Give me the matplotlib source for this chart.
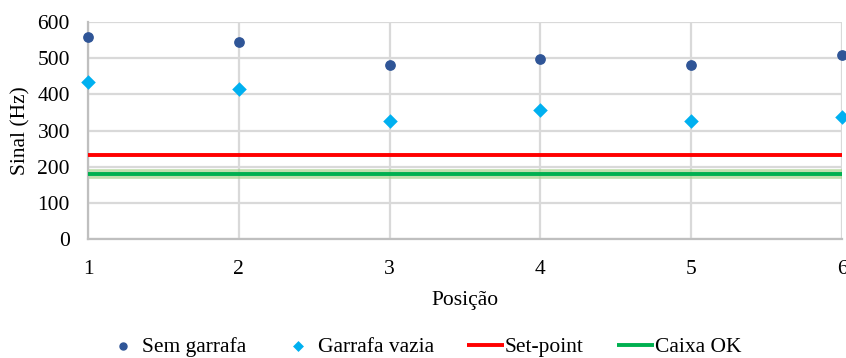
import matplotlib
matplotlib.use("Agg")
import matplotlib.pyplot as plt

positions = [1, 2, 3, 4, 5, 6]
sem_garrafa = [558, 545, 481, 498, 481, 509]
garrafa_vazia = [434, 415, 326, 357, 326, 337]
set_point = [232] * 6
caixa_ok = [180] * 6
y_ticks = [0, 100, 200, 300, 400, 500, 600]

plt.rcParams['font.family'] = ['Liberation Serif', 'DejaVu Serif']
plt.rcParams['font.size'] = 15.5

fig = plt.figure(figsize=(8.46, 3.58), dpi=100)
ax = fig.add_axes([88 / 846, 1 - 239 / 358, (842 - 88) / 846, (239 - 22) / 358])

ax.set_xlim(1, 6)
ax.set_ylim(0, 600)
ax.set_yticks(y_ticks)
ax.set_xticks(positions)

ax.grid(True, color='#d9d9d9', linewidth=1.6, zorder=0)
ax.set_axisbelow(True)
for side in ['top', 'right']:
    ax.spines[side].set_visible(False)
for side in ['left', 'bottom']:
    ax.spines[side].set_color('#bfbfbf')
    ax.spines[side].set_linewidth(1.6)
ax.tick_params(length=0)
ax.tick_params(axis='y', pad=13)
ax.tick_params(axis='x', pad=15)

# soft band behind the "Caixa OK" threshold
ax.plot(positions, caixa_ok, color='#a9d18e', linewidth=7, alpha=0.7,
        solid_capstyle='butt', zorder=2)
ax.plot(positions, set_point, color='#ff0000', linewidth=2.8, label='Set-point',
        solid_capstyle='butt', zorder=3)
ax.plot(positions, caixa_ok, color='#00b050', linewidth=2.8, label='Caixa OK',
        solid_capstyle='butt', zorder=3)

ax.scatter(positions, sem_garrafa, s=45, marker='o', color='#2f5597',
           label='Sem garrafa', zorder=4, clip_on=False)
ax.scatter(positions, garrafa_vazia, s=55, marker='D', color='#00b0f0',
           label='Garrafa vazia', zorder=4, clip_on=False, linewidths=0)

ax.set_ylabel('Sinal (Hz)')
ax.yaxis.set_label_coords((21 - 88) / 754, 0.5)
ax.set_xlabel('Posição')
ax.xaxis.set_label_coords(0.5, -(301 - 239) / 217)
ax.xaxis.label.set_va('center')
ax.yaxis.label.set_va('center')

handles, labels = ax.get_legend_handles_labels()
order = [labels.index(n) for n in ['Sem garrafa', 'Garrafa vazia', 'Set-point', 'Caixa OK']]
fig.legend([handles[i] for i in order], [labels[i] for i in order],
           loc='center', bbox_to_anchor=(0.5, 1 - 347 / 358), ncol=4,
           frameon=False, handlelength=1.7, handletextpad=0.05, columnspacing=1.55,
           markerscale=0.75)

fig.savefig('out.png', dpi=100)
